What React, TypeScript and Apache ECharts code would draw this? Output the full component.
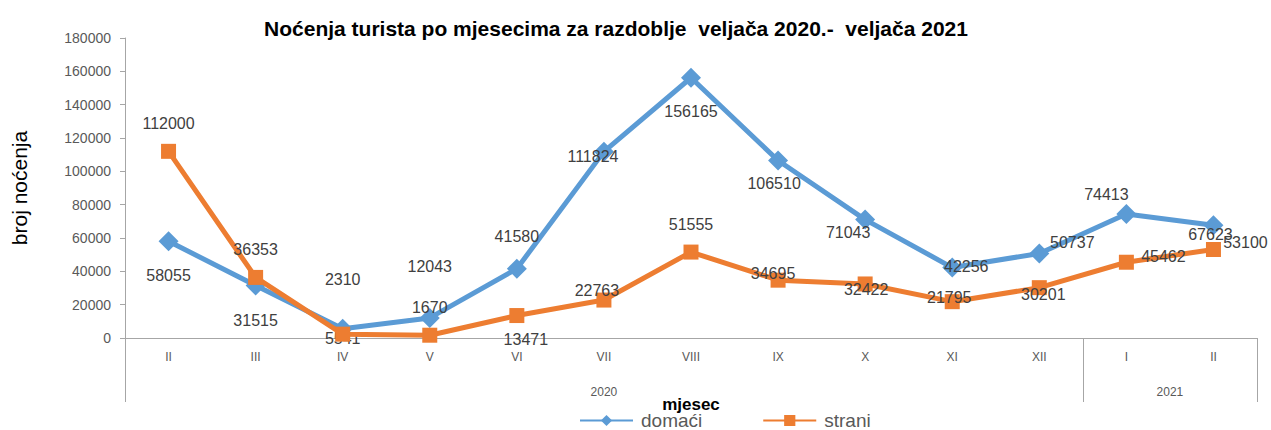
import React, { useEffect, useRef } from "react";
import * as echarts from "echarts";

const months = ["II", "III", "IV", "V", "VI", "VII", "VIII", "IX", "X", "XI", "XII", "I", "II"];
const years = ["2020", "2021"];
const domaci = [58055, 31515, 5541, 12043, 41580, 111824, 156165, 106510, 71043, 42256, 50737, 74413, 67623];
const strani = [112000, 36353, 2310, 1670, 13471, 22763, 51555, 34695, 32422, 21795, 30201, 45462, 53100];
const yTicks = { min: 0, max: 180000, interval: 20000 };

// label offsets (style only)
const domaciOffsets = [[0, 34], [0, 35], [0, 10], [0, -51], [0, -32], [-11, 5], [0, 34], [-4, 23], [-17, 13], [14, -1], [33, -11], [-20, -19], [-3, 9]];
const straniOffsets = [[0, -28], [0, -28], [0, -55], [0, -28], [9, 24], [-7, -10], [0, -28], [-5, -7], [1, 6], [-3, -4], [4, 7], [37, -6], [32, -7]];

const FONT = "Liberation Sans";
const BLUE = "#5B9BD5";
const ORANGE = "#ED7D31";
const GRID_GREY = "#A6A6A6";

export default function App() {
  const ref = useRef<HTMLDivElement>(null);
  useEffect(() => {
    if (!ref.current) return;
    const chart = echarts.init(ref.current, undefined, { renderer: "svg" });
    const mk = (vals: number[], offs: number[][]) =>
      vals.map((v, i) => ({ value: v, label: { offset: offs[i] } }));
    const labelStyle = {
      show: true,
      position: "inside",
      color: "#404040",
      fontSize: 16,
      fontFamily: FONT,
    };
    chart.setOption({
      animation: false,
      textStyle: { fontFamily: FONT },
      title: {
        text: "Noćenja turista po mjesecima za razdoblje  veljača 2020.-  veljača 2021",
        left: 611,
        textAlign: "center",
        top: 13,
        textStyle: { fontFamily: FONT, fontWeight: "bold", fontSize: 21, color: "#000" },
      },
      grid: { left: 125, right: 14, top: 38, bottom: 92, containLabel: false },
      legend: {
        bottom: -5,
        left: 574,
        itemWidth: 53,
        itemHeight: 14,
        itemGap: 60,
        textStyle: { fontFamily: FONT, fontSize: 19, color: "#595959", padding: [0, 0, 0, 3] },
        data: ["domaći", "strani"],
      },
      xAxis: [
        {
          type: "category",
          data: months,
          boundaryGap: true,
          position: "bottom",
          axisLine: { onZero: false, lineStyle: { color: GRID_GREY, width: 1 } },
          axisTick: { show: false },
          axisLabel: { color: "#595959", fontSize: 12, fontFamily: FONT, margin: 13, interval: 0 },
          name: "mjesec",
          nameLocation: "middle",
          nameGap: 58,
          nameTextStyle: { fontFamily: FONT, fontWeight: "bold", fontSize: 17, color: "#000" },
        },
        {
          type: "value",
          min: -0.5,
          max: 12.5,
          position: "bottom",
          axisLine: { show: false, onZero: false },
          splitLine: { show: false },
          axisTick: {
            show: true,
            customValues: [-0.5, 10.5, 12.5],
            length: 64,
            lineStyle: { color: GRID_GREY, width: 1 },
          },
          axisLabel: {
            show: true,
            customValues: [5, 11.5],
            formatter: (v: number) => (v < 10.5 ? years[0] : years[1]),
            color: "#595959",
            fontSize: 12,
            fontFamily: FONT,
            margin: 48,
          },
        },
      ],
      yAxis: {
        type: "value",
        min: yTicks.min,
        max: yTicks.max,
        interval: yTicks.interval,
        splitLine: { show: false },
        axisLine: { show: true, onZero: false, lineStyle: { color: GRID_GREY, width: 1 } },
        axisTick: { show: true, length: 5, lineStyle: { color: GRID_GREY } },
        axisLabel: {
          color: "#595959",
          fontSize: 14,
          fontFamily: FONT,
          margin: 14,
          formatter: (v: number) => String(v),
        },
        name: "broj noćenja",
        nameLocation: "middle",
        nameRotate: 90,
        nameGap: 95,
        nameTextStyle: { fontFamily: FONT, fontSize: 21, color: "#000" },
      },
      series: [
        {
          name: "domaći",
          type: "line",
          xAxisIndex: 0,
          data: mk(domaci, domaciOffsets),
          symbol: "diamond",
          symbolSize: 20,
          lineStyle: { color: BLUE, width: 5 },
          itemStyle: { color: BLUE },
          label: labelStyle,
          z: 2,
        },
        {
          name: "strani",
          type: "line",
          xAxisIndex: 0,
          data: mk(strani, straniOffsets),
          symbol: "rect",
          symbolSize: 15,
          lineStyle: { color: ORANGE, width: 5 },
          itemStyle: { color: ORANGE },
          label: labelStyle,
          z: 3,
        },
      ],
    });
    return () => chart.dispose();
  }, []);
  return (
    <div
      ref={ref}
      style={{ position: "fixed", left: 0, top: 0, width: 1271, height: 430, background: "#fff" }}
    />
  );
}
